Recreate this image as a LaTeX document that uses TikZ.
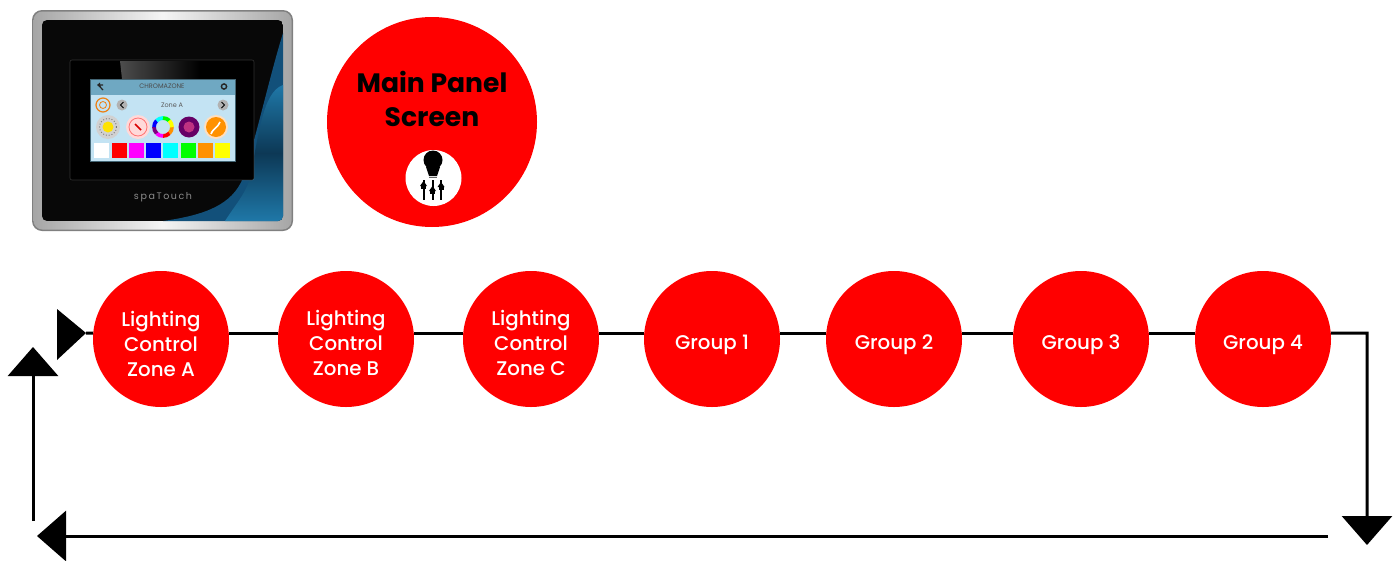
\documentclass[tikz,border=0pt]{standalone}
\usepackage{fontspec}
\setmainfont{Poppins}
\newfontfamily\medfont{Poppins Medium}
\usetikzlibrary{arrows.meta,calc}
\definecolor{panelred}{RGB}{255,0,0}
\definecolor{darkblue}{HTML}{12507A}
\definecolor{midblue}{HTML}{1F78A8}
\definecolor{screenblue}{HTML}{C3E3F3}
\definecolor{headerblue}{HTML}{6FA8C2}
\definecolor{swwhite}{RGB}{255,255,255}
\definecolor{swred}{RGB}{255,0,0}
\definecolor{swmagenta}{RGB}{255,0,255}
\definecolor{swblue}{RGB}{0,0,255}
\definecolor{swcyan}{RGB}{0,255,255}
\definecolor{swgreen}{RGB}{0,255,0}
\definecolor{sworange}{RGB}{255,145,0}
\definecolor{swyellow}{RGB}{255,255,0}
\tikzset{
  x=1pt,y=-1pt,
  redcircle/.style={circle,fill=panelred,draw=none,minimum size=136pt,inner sep=0pt},
  lbl/.style={text=white,align=center,inner sep=0pt,font=\fontsize{19.8}{25}\selectfont\medfont},
  mainlbl/.style={text=black,align=center,inner sep=0pt,font=\fontsize{26.6}{34}\selectfont\bfseries},
  conn/.style={draw=black,line width=3pt},
  flow/.style={draw=black,line width=3pt,-{Triangle[length=29pt,width=50pt]}},
  head/.style={fill=black,draw=none},
  swatch/.style={minimum width=15pt,minimum height=15pt,inner sep=0pt,draw=none},
  small/.style={font=\fontsize{6.5}{7}\selectfont,text=black!65,inner sep=0pt},
}
\begin{document}
\begin{tikzpicture}
\useasboundingbox (0,0) rectangle (1397,560);
% ---------- panel picture ----------
\fill[black!50,rounded corners=10pt] (32,10) rectangle (293,231);
\shade[left color=black!35,right color=black!35,middle color=black!4,rounded corners=9pt]
  (33.5,11.5) rectangle (291.5,229.5);
\begin{scope}
  \clip[rounded corners=5pt] (42,20) rectangle (283,221);
  \fill[black!97] (42,20) rectangle (283,221);
  \fill[darkblue] (283,33) .. controls (270,75) and (258,130) .. (243,178)
     .. controls (232,205) and (205,215) .. (163,221) -- (283,221) -- cycle;
  \shade[top color=midblue,bottom color=midblue,middle color=darkblue!70!black]
     (283,85) .. controls (262,92) and (258,140) .. (250,178)
     .. controls (245,195) and (235,205) .. (225,221) -- (283,221) -- cycle;
\end{scope}
% bezel and screen
\fill[black,rounded corners=2pt] (70,60) rectangle (254,180);
\draw[white,opacity=.18,line width=.6pt,rounded corners=2pt] (70,60) rectangle (254,180);
\shade[left color=black!70,right color=black] (120,61) -- (200,61) -- (200,79) -- (122,79) -- cycle;
\fill[screenblue] (90,79) rectangle (235,161);
\fill[headerblue] (90,79) rectangle (235,95);
\draw[black!40!headerblue,line width=.8pt] (90,79) rectangle (235,161);
\node[small,text=black!70] (title) at (162,86.5) {CHROMAZONE};
\node[small] (zone) at (172,105) {Zone A};
\draw[black!85,line width=1.2pt] (103,85) -- (99,85) .. controls (100,88) and (102,88) .. (103,90);
\fill[black!85] (97,85) -- (100,82.5) -- (100,87.5) -- cycle;
\draw[black!85,line width=1.4pt] (224,86.5) circle[radius=2.6];
\draw[orange!70!brown,line width=1.2pt] (103,105) circle[radius=7];
\draw[orange!70!brown,line width=.8pt] (103,105) circle[radius=3.5];
\foreach \cx/\sgn in {122/1,223/-1}{
  \fill[black!30] (\cx,105) circle[radius=5.5];
  \draw[black,line width=.9pt] (\cx+1.5*\sgn,102) -- (\cx-1.5*\sgn,105) -- (\cx+1.5*\sgn,108);
}
% icons
\fill[black!18] (108,127) circle[radius=12];
\draw[black!55,dotted,line width=.9pt] (108,127) circle[radius=8.5];
\fill[yellow!85!orange] (108,127) circle[radius=5.5];
\fill[red!15] (138,127) circle[radius=12];
\draw[red!55,line width=.8pt] (138,127) circle[radius=9];
\draw[red!85!black,line width=1.6pt] (135,124) -- (141,130);
\foreach \a/\c in {0/sworange,45/swred,90/swmagenta,135/violet,180/swblue,225/swcyan,270/swgreen,315/swyellow}{
  \draw[\c,line width=3.8pt] (163,127) ++(\a:9) arc[start angle=\a,delta angle=46,radius=9];
}
\fill[violet!80!black] (189,127) circle[radius=10.5];
\fill[magenta!50!violet] (189,127) circle[radius=5.5];
\fill[orange!25] (216,127) circle[radius=12];
\fill[sworange] (216,127) circle[radius=10];
\draw[white,line width=1.6pt] (211,134) .. controls (214,127) and (216,130) .. (220,122);
% swatches
\foreach \i/\c in {0/swwhite,1/swred,2/swmagenta,3/swblue,4/swcyan,5/swgreen,6/sworange,7/swyellow}{
  \node[swatch,fill=\c,anchor=north west] (sw\i) at (94+17.3*\i,143) {};
}
\node[font=\fontsize{9.5}{10}\selectfont,text=black!45,inner sep=0pt] (brand) at (163,197.5)
  {s\,p\,a\,T\,o\,u\,c\,h};
% ---------- main panel circle ----------
\node[circle,fill=panelred,minimum size=210pt,inner sep=0pt] (main) at (432,122) {};
\node[mainlbl] (mainlabel) at (432,98.5) {Main Panel\\Screen};
\node[circle,fill=white,minimum size=56pt,inner sep=0pt] (icon) at (433.5,178) {};
\fill[black] (433,160) circle[radius=9.5];
\fill[black] (426,167) -- (440,167) -- (437,176) -- (429,176) -- cycle;
\draw[black!60,line width=1pt] (429,177.5) -- (437,177.5);
\foreach \sx/\sy in {423.5/186,432.5/191,441/187}{
  \draw[black,line width=2pt] (\sx,180) -- (\sx,200);
  \fill[black] (\sx-3.5,\sy) -- (\sx+3.5,\sy) -- (\sx,\sy-5) -- cycle;
  \fill[black] (\sx-2.5,\sy) rectangle (\sx+2.5,\sy+2.5);
}
% ---------- mode circles ----------
\node[redcircle] (a) at (161,339) {};
\node[redcircle] (b) at (346,339) {};
\node[redcircle] (c) at (531,339) {};
\node[redcircle] (g1) at (712,339) {};
\node[redcircle] (g2) at (894,339) {};
\node[redcircle] (g3) at (1081,339) {};
\node[redcircle] (g4) at (1263,339) {};
\node[lbl] (la) at (161,344) {Lighting\\Control\\Zone A};
\node[lbl] (lb) at (346,342.5) {Lighting\\Control\\Zone B};
\node[lbl] (lc) at (531,342.5) {Lighting\\Control\\Zone C};
\node[lbl] (l1) at (712,345) {Group 1};
\node[lbl] (l2) at (894,345) {Group 2};
\node[lbl] (l3) at (1081,345) {Group 3};
\node[lbl] (l4) at (1263,345) {Group 4};
% ---------- connectors ----------
\draw[conn] (a.5) -- (b.175);
\draw[conn] (b.5) -- (c.175);
\draw[conn] (c.5) -- (g1.175);
\draw[conn] (g1.5) -- (g2.175);
\draw[conn] (g2.5) -- (g3.175);
\draw[conn] (g3.5) -- (g4.175);
\coordinate (corner) at (1367,333);
\coordinate (downtip) at (1367,545);
\coordinate (botstart) at (1328,536);
\coordinate (bottip) at (37,536);
\coordinate (upstart) at (33,521);
\coordinate (uptip) at (33,347);
\coordinate (entrytip) at (86,333);
\draw[flow] (g4.5) -- (corner) -- (downtip);
\draw[flow] (botstart) -- (bottip);
\draw[flow] (upstart) -- (uptip);
\draw[conn] (entrytip) -- (a.175);
\fill[head] (entrytip) -- ++(-29,-24) -- ++(0,51) -- cycle;
\end{tikzpicture}
\end{document}
